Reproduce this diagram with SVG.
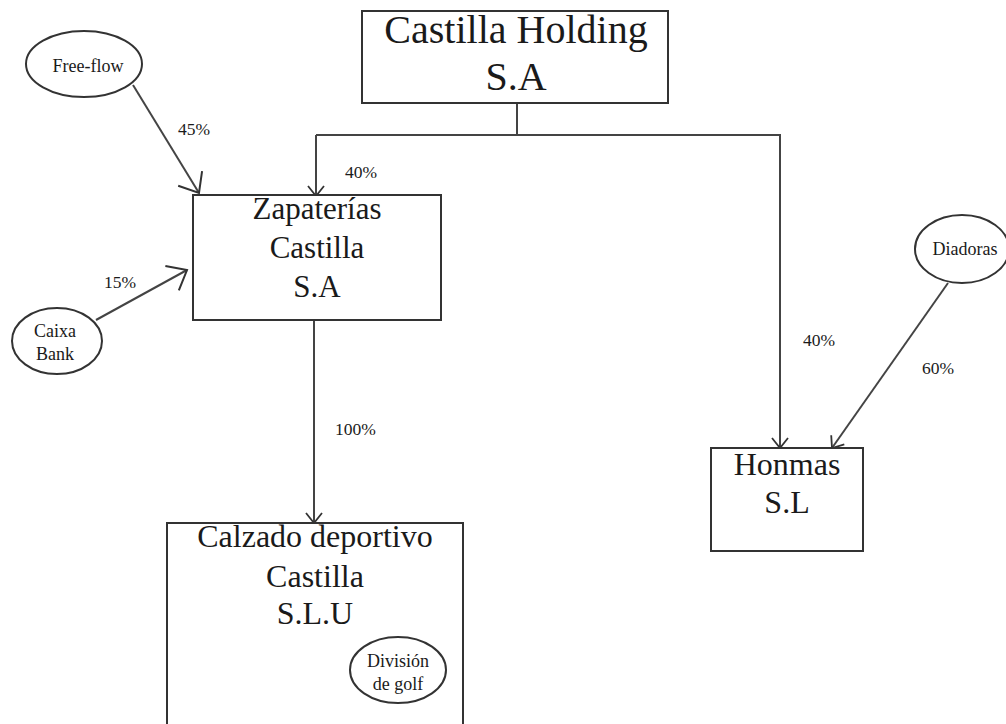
<svg xmlns="http://www.w3.org/2000/svg" width="1006" height="724" viewBox="0 0 1006 724">
<style>
  .box{fill:#fff;stroke:#333;stroke-width:2}
  .ell{fill:#fff;stroke:#333;stroke-width:2}
  .con{fill:none;stroke:#444;stroke-width:2}
  .big{font-family:"Liberation Serif",serif;fill:#1a1a1a;text-anchor:middle}
  .sm{font-family:"Liberation Serif",serif;fill:#1a1a1a;text-anchor:middle;font-size:18px}
  .pct{font-family:"Liberation Serif",serif;fill:#1a1a1a;font-size:17.5px}
</style>
<defs>
  <marker id="ab" viewBox="-20 -16 22 32" markerWidth="22" markerHeight="32" refX="0" refY="0" markerUnits="userSpaceOnUse" orient="auto" overflow="visible">
    <path d="M-17,-14 L0,0 L-17,14" fill="none" stroke="#333" stroke-width="2"/>
  </marker>
  <marker id="as" viewBox="-12 -10 14 20" markerWidth="14" markerHeight="20" refX="0" refY="0" markerUnits="userSpaceOnUse" orient="auto" overflow="visible">
    <path d="M-10,-8 L0,0 L-10,8" fill="none" stroke="#333" stroke-width="1.8"/>
  </marker>
</defs>
<rect width="1006" height="724" fill="#fff"/>
<g id="connectors">
  <polyline class="con" points="517,103 517,135"/>
  <polyline class="con" points="316,135 780,135 780,448" marker-end="url(#as)"/>
  <line class="con" x1="316" y1="135" x2="316" y2="196" marker-end="url(#as)"/>
  <line class="con" x1="133" y1="85" x2="199" y2="193" marker-end="url(#ab)"/>
  <line class="con" x1="96" y1="320" x2="187" y2="270" marker-end="url(#ab)"/>
  <line class="con" x1="314" y1="310" x2="314" y2="523" marker-end="url(#as)"/>
  <line class="con" x1="948" y1="283" x2="832" y2="448" marker-end="url(#as)"/>
  <text class="pct" x="178" y="135">45%</text>
  <text class="pct" x="345" y="178">40%</text>
  <text class="pct" x="104" y="288">15%</text>
  <text class="pct" x="335" y="435">100%</text>
  <text class="pct" x="803" y="346">40%</text>
  <text class="pct" x="922" y="374">60%</text>
</g>
<g id="holding">
  <rect class="box" x="362" y="11" width="306" height="92"/>
  <text class="big" x="516" y="43" font-size="40">Castilla Holding</text>
  <text class="big" x="516" y="90" font-size="40">S.A</text>
</g>
<g id="zapaterias">
  <rect class="box" x="193" y="195" width="248" height="125"/>
  <text class="big" x="317" y="219" font-size="31">Zapaterías</text>
  <text class="big" x="317" y="258" font-size="31">Castilla</text>
  <text class="big" x="317" y="297" font-size="31">S.A</text>
</g>
<g id="calzado">
  <rect class="box" x="167" y="523" width="296" height="230"/>
  <text class="big" x="315" y="547" font-size="32">Calzado deportivo</text>
  <text class="big" x="315" y="587" font-size="32">Castilla</text>
  <text class="big" x="315" y="624" font-size="32">S.L.U</text>
</g>
<g id="division">
  <ellipse class="ell" cx="398" cy="670" rx="48" ry="33"/>
  <text class="sm" x="398" y="667">División</text>
  <text class="sm" x="398" y="690">de golf</text>
</g>
<g id="honmas">
  <rect class="box" x="711" y="448" width="152" height="103"/>
  <text class="big" x="787" y="475" font-size="32">Honmas</text>
  <text class="big" x="787" y="513" font-size="32">S.L</text>
</g>
<g id="freeflow">
  <ellipse class="ell" cx="84" cy="64" rx="58" ry="33"/>
  <text class="sm" x="88" y="72">Free-flow</text>
</g>
<g id="caixabank">
  <ellipse class="ell" cx="57" cy="341" rx="45" ry="33"/>
  <text class="sm" x="55" y="337">Caixa</text>
  <text class="sm" x="55" y="360">Bank</text>
</g>
<g id="diadoras">
  <ellipse class="ell" cx="962" cy="249" rx="47" ry="34"/>
  <text class="sm" x="965" y="255">Diadoras</text>
</g>
</svg>
